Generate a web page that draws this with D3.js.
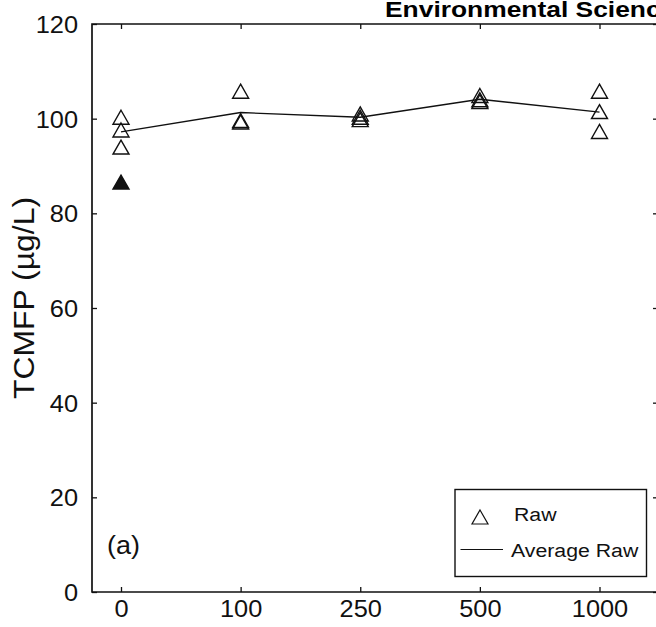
<!DOCTYPE html>
<html>
<head>
<meta charset="utf-8">
<script src="https://cdn.jsdelivr.net/npm/d3@7/dist/d3.min.js"></script>
<style>
  html, body { margin: 0; padding: 0; background: #fff; }
  svg { display: block; font-family: "Liberation Sans", Arial, Helvetica, sans-serif; }
</style>
</head>
<body>
<svg id="chart" width="656" height="627"></svg>
<script>
// ---- data ----
const categories = ["0", "100", "250", "500", "1000"];
const rawValues = [
  [100.3, 97.6, 94.0],
  [105.8, 99.6, 99.3],
  [101.0, 100.3, 99.8],
  [104.9, 104.0, 103.6],
  [105.8, 101.5, 97.3]
];
const outlierCategory = ["0"];
const outlierValues = [86.6];
const averageRaw = [97.2, 101.3, 100.3, 104.1, 101.4];
const yTicks = [0, 20, 40, 60, 80, 100, 120];
const yLabel = "TCMFP (µg/L)";
const titleText = "Environmental Science";
const panelLabel = "(a)";
const legendLabels = ["Raw", "Average Raw"];

// ---- layout ----
const L = 92, R = 658, T = 24, B = 592;
const svg = d3.select("#chart");
const ink = "#111";

const xIdx = d3.scaleLinear().domain([0, categories.length - 1]).range([121, 599.5]);
const x = c => xIdx(categories.indexOf(c));
const y = d3.scaleLinear().domain([0, 120]).range([B, T]);

const sx = 1.08;   // horizontal text stretch of the source

// title (clipped at right edge, as in the source)
svg.append("g").attr("transform", `translate(385,17) scale(1.2,1)`)
  .append("text").text(titleText)
  .attr("font-size", 22).attr("font-weight", "bold").attr("fill", "#000");

// axes
const yAxisL = d3.axisLeft(y).tickValues(yTicks).tickSizeInner(-5).tickSizeOuter(0).tickFormat(d3.format("d"));
const gL = svg.append("g").attr("transform", `translate(${L},0)`).call(yAxisL);
gL.selectAll("text").attr("x", 0).attr("dy", "0.36em")
  .attr("transform", `translate(-14,0) scale(${sx},1)`)
  .attr("font-size", 23.5).attr("fill", ink).attr("font-family", null);

const gR = svg.append("g").attr("transform", `translate(${R},0)`)
  .call(d3.axisRight(y).tickValues(yTicks).tickSizeInner(-5).tickSizeOuter(0).tickFormat(""));

const xAxisB = d3.axisBottom(xIdx).tickValues(d3.range(categories.length))
  .tickSizeInner(-5).tickSizeOuter(0).tickFormat(i => categories[i]);
const gB = svg.append("g").attr("transform", `translate(0,${B})`).call(xAxisB);
gB.selectAll("text").attr("y", 0).attr("dy", "0")
  .attr("transform", `translate(0,25) scale(${sx},1)`)
  .attr("font-size", 23.5).attr("fill", ink).attr("font-family", null);

const gT = svg.append("g").attr("transform", `translate(0,${T})`)
  .call(d3.axisTop(xIdx).tickValues(d3.range(categories.length)).tickSizeInner(-5).tickSizeOuter(0).tickFormat(""));

[gL, gR, gB, gT].forEach(g => {
  g.select(".domain").remove();
  g.selectAll(".tick line").attr("stroke", ink).attr("stroke-width", 1.3);
});

// frame
const frame = svg.append("g").attr("stroke", ink).attr("stroke-width", 1.7).attr("fill", "none");
frame.append("path").attr("d", `M${L},${T}H${R}V${B}H${L}Z`);

// y label
svg.append("g").attr("transform", `translate(34,298) rotate(-90) scale(1.1,1)`)
  .append("text").text(yLabel).attr("text-anchor", "middle")
  .attr("font-size", 29).attr("fill", ink);

// panel label
svg.append("g").attr("transform", `translate(107,554) scale(${sx},1)`)
  .append("text").text(panelLabel).attr("font-size", 25).attr("fill", ink);

// triangle symbol
const triW = 16, triH = 14;
const triPath = `M0,${-triH/2}L${triW/2},${triH/2}L${-triW/2},${triH/2}Z`;

// average line
const line = d3.line().x((d, i) => xIdx(i)).y(d => y(d));
svg.append("path").datum(averageRaw).attr("d", line)
  .attr("fill", "none").attr("stroke", ink).attr("stroke-width", 1.3);

// raw points
const pts = [];
rawValues.forEach((vals, i) => vals.forEach(v => pts.push({ c: categories[i], v })));
svg.append("g").selectAll("path").data(pts).join("path")
  .attr("d", triPath)
  .attr("transform", d => `translate(${x(d.c)},${y(d.v)})`)
  .attr("fill", "none").attr("stroke", ink).attr("stroke-width", 1.4);

// outlier (filled)
svg.append("g").selectAll("path").data(outlierValues.map((v, i) => ({ c: outlierCategory[i], v }))).join("path")
  .attr("d", triPath)
  .attr("transform", d => `translate(${x(d.c)},${y(d.v)})`)
  .attr("fill", ink).attr("stroke", ink).attr("stroke-width", 1.4);

// legend
const lg = svg.append("g");
lg.append("rect").attr("x", 455).attr("y", 489.5).attr("width", 191.5).attr("height", 87)
  .attr("fill", "#fff").attr("stroke", ink).attr("stroke-width", 1.4);
lg.append("path").attr("d", triPath).attr("transform", "translate(480,517)")
  .attr("fill", "none").attr("stroke", ink).attr("stroke-width", 1.2);
lg.append("g").attr("transform", `translate(514,521) scale(1.12,1)`)
  .append("text").text(legendLabels[0]).attr("font-size", 19).attr("fill", ink);
lg.append("line").attr("x1", 460.5).attr("x2", 503).attr("y1", 549.5).attr("y2", 549.5)
  .attr("stroke", ink).attr("stroke-width", 1.2);
lg.append("g").attr("transform", `translate(511,557) scale(1.12,1)`)
  .append("text").text(legendLabels[1]).attr("font-size", 19).attr("fill", ink);
</script>
</body>
</html>
